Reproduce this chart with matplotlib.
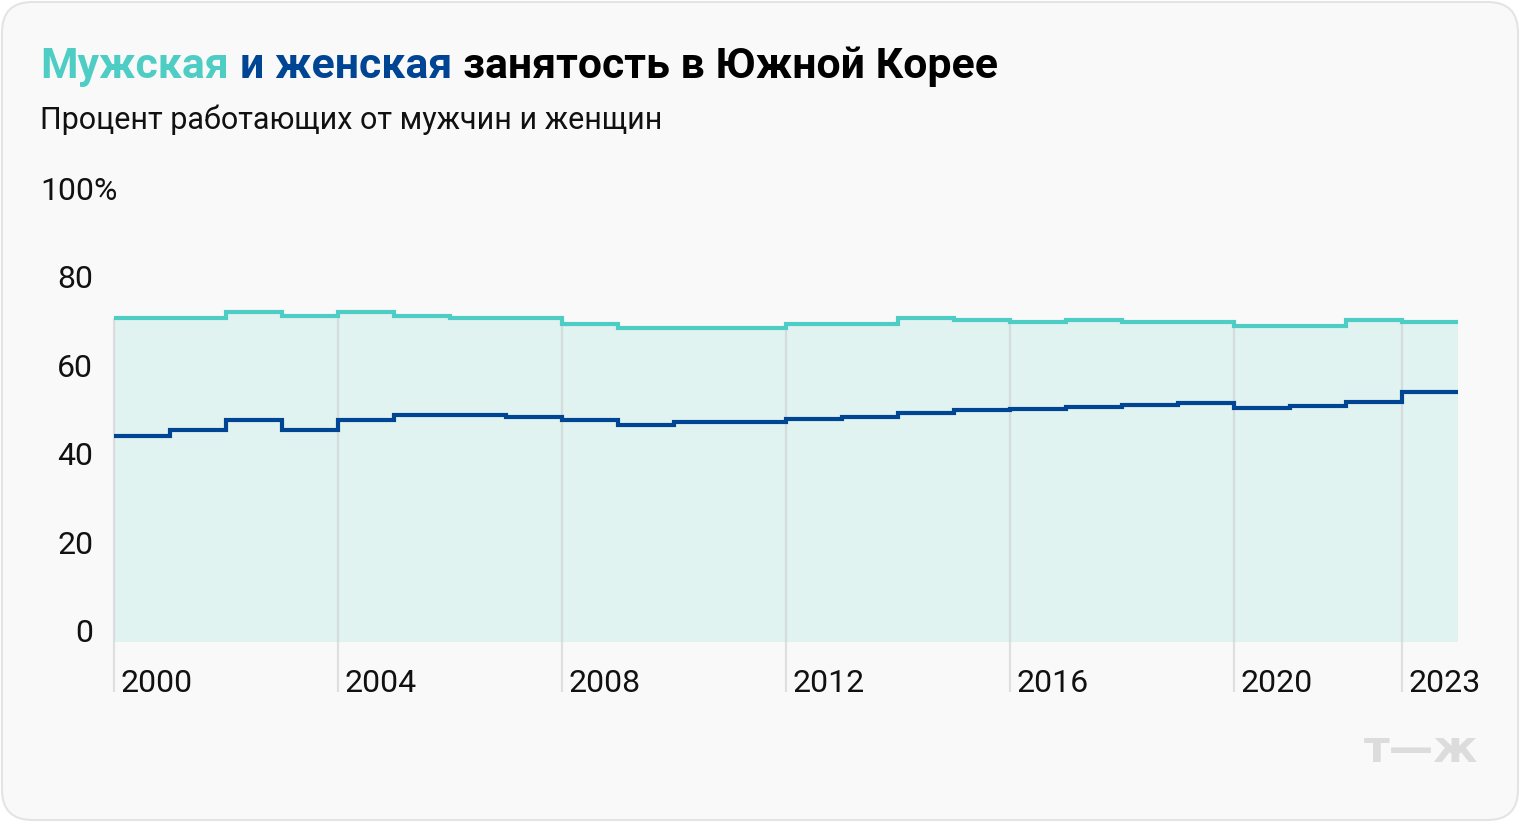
import numpy as np
import matplotlib
matplotlib.use("Agg")
import matplotlib.pyplot as plt
from matplotlib.patches import FancyBboxPatch

plt.rcParams['font.family'] = ['Roboto', 'DejaVu Sans']

# employment rate, % of men / women, 2000-2023
years = np.arange(2000, 2024)
men = [73.4, 73.4, 74.7, 73.8, 74.7, 73.8, 73.4, 73.4, 72.0, 71.0, 71.0, 71.0,
       72.0, 72.0, 73.4, 72.9, 72.5, 72.9, 72.5, 72.5, 71.6, 71.6, 72.9, 72.5]
women = [46.7, 48.0, 50.3, 48.0, 50.3, 51.4, 51.4, 51.0, 50.3, 49.2, 49.8, 49.8,
         50.5, 51.0, 51.7, 52.4, 52.8, 53.2, 53.7, 54.1, 53.0, 53.5, 54.4, 56.6]
xtick_years = [2000, 2004, 2008, 2012, 2016, 2020, 2023]
ytick_vals = [0, 20, 40, 60, 80, 100]

MEN_C = "#4ecdc4"
WOMEN_C = "#004494"
FILL_C = "#e0f3f1"
BG = "#f9f9f9"

W, H = 1520, 822
fig = plt.figure(figsize=(W / 100, H / 100), dpi=100)
fig.patch.set_facecolor("white")
card = FancyBboxPatch((2 / W, 2 / H), (W - 4) / W, (H - 4) / H,
                      boxstyle="round,pad=0,rounding_size=0.02",
                      transform=fig.transFigure, facecolor=BG,
                      edgecolor="#e4e4e4", linewidth=1.5, mutation_aspect=W / H,
                      zorder=-10)
fig.patches.append(card)

ax = fig.add_axes([114 / W, 180 / H, (1458 - 114) / W, 442 / H])
ax.set_zorder(5)
ax.set_facecolor("none")
ax.set_xlim(2000, 2024)
ax.set_ylim(0, 100)
for s in ax.spines.values():
    s.set_visible(False)
ax.set_xticks([])
ax.set_yticks([])

edges = np.append(years, years[-1] + 1)
ax.stairs(men, edges, baseline=0, fill=True, color=FILL_C, zorder=1)

# vertical grid lines, inside the fill and down to the labels
for yr in xtick_years:
    top = men[list(years).index(yr)]
    ax.vlines(yr, -11.3, top, color="#cfcfcf", alpha=0.6, lw=1.6,
              zorder=2, clip_on=False)
    ax.annotate(str(yr), xy=(yr, -9.5), xytext=(4.5, 0), textcoords="offset points",
                ha="left", va="center", fontsize=23, color="#111111",
                annotation_clip=False)

ax.stairs(men, edges, baseline=None, color=MEN_C, lw=3, zorder=3)
ax.stairs(women, edges, baseline=None, color=WOMEN_C, lw=3, zorder=4)

for v in ytick_vals:
    if v == 100:
        fig.text(40 / W, (H - 200) / H, "100%", ha="left", va="baseline",
                 fontsize=23, color="#111111")
    else:
        ax.annotate(str(v), xy=(0, v), xycoords=("axes fraction", "data"),
                    xytext=(-15, 0), textcoords="offset points",
                    ha="right", va="baseline", fontsize=23, color="#111111",
                    annotation_clip=False)

# title with coloured words
t1 = fig.text(40 / W, (H - 78) / H, "Мужская", fontsize=30.8, fontweight="bold",
              color=MEN_C, va="baseline")
fig.canvas.draw()
r = fig.canvas.get_renderer()
x = t1.get_window_extent(r).x1 + 11
t2 = fig.text(x / W, (H - 78) / H, "и женская", fontsize=30.8, fontweight="bold",
              color=WOMEN_C, va="baseline")
x = t2.get_window_extent(r).x1 + 11
fig.text(x / W, (H - 78) / H, "занятость в Южной Корее", fontsize=30.8,
         fontweight="bold", color="#000000", va="baseline")

fig.text(40 / W, (H - 129) / H, "Процент работающих от мужчин и женщин",
         fontsize=22, color="#111111", va="baseline")

fig.text(1478 / W, (H - 762) / H, "т—ж", fontsize=32, fontweight="bold",
         family="DejaVu Sans", color="#dcdcdc", ha="right", va="baseline")

fig.savefig("out.png", dpi=100, facecolor=fig.get_facecolor())
